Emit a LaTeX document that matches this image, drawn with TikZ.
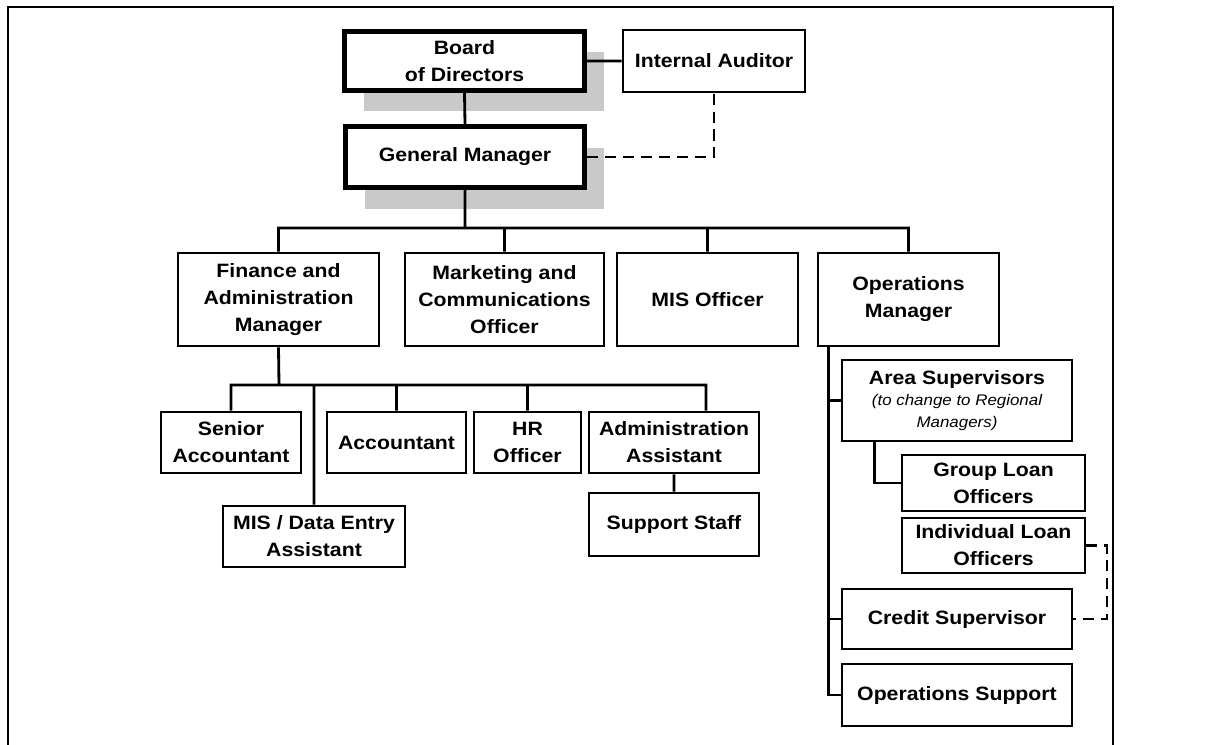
\documentclass[tikz,border=0pt]{standalone}
\usepackage{fontspec}
\setmainfont{Liberation Sans}[FakeStretch=1.1]
\usetikzlibrary{calc,shadows}
\newcommand\areanote{\mdseries\itshape\fontsize{8.75}{12.35}\selectfont}

\begin{document}
\begin{tikzpicture}[x=0.02cm,y=-0.02cm,
		box/.style={draw,fill=white,line width=1.6pt,align=center,inner sep=0pt,font=\fontsize{11}{15.4}\selectfont\bfseries},
		topbox/.style={box,line width=3pt,drop shadow={shadow xshift=0.38cm,shadow yshift=-0.42cm,fill=black!21,opacity=1}},
		boxsize/.style 2 args={minimum width=#1*0.02cm,minimum height=#2*0.02cm},
		link/.style={line width=1.6pt},
		dashlink/.style={line width=1.2pt,dash pattern=on 6.3pt off 3.9pt}]
	\useasboundingbox(0,0)rectangle(1219,744);
	\draw[line width=1.5pt](8,760)--(8,7)--(1113,7)--(1113,760);
	\node[topbox,boxsize={240}{59}](board)at(464.5,61){Board\\of Directors};
	\node[box,boxsize={182}{62}](audit)at(714,61){Internal Auditor};
	\node[topbox,boxsize={239}{61}](gm)at(465,157){General Manager};
	\node[box,boxsize={201}{93}](fin)at(278.5,299.5){Finance and\\Administration\\Manager};
	\node[box,boxsize={199}{93}](mkt)at(504.5,299.5){Marketing and\\Communications\\Officer};
	\node[box,boxsize={181}{93}](mis)at(707.5,299.5){MIS Officer};
	\node[box,boxsize={181}{93}](ops)at(908.5,299.5){Operations\\Manager};
	\node[box,boxsize={140}{61}](senior)at(231,442.5){Senior\\Accountant};
	\node[box,boxsize={139}{61}](acct)at(396.5,442.5){Accountant};
	\node[box,boxsize={107}{61}](hr)at(527.5,442.5){HR\\Officer};
	\node[box,boxsize={170}{61}](admin)at(674,442.5){Administration\\Assistant};
	\node[box,boxsize={170}{63}](staff)at(674,524.5){Support Staff};
	\node[box,boxsize={182}{61}](entry)at(314,536.5){MIS / Data Entry\\Assistant};
	\node[box,boxsize={230}{81},font=\fontsize{11}{12.35}\selectfont\bfseries](area)at(957,400.5)
		{Area Supervisors\\{\areanote(to change to Regional}\\{\areanote Managers)}};
	\node[box,boxsize={183}{56}](group)at(993.5,483){Group Loan\\Officers};
	\node[box,boxsize={183}{55}](indiv)at(993.5,545.5){Individual Loan\\Officers};
	\node[box,boxsize={230}{60}](credit)at(957,619){Credit Supervisor};
	\node[box,boxsize={230}{62}](opsup)at(957,695){Operations Support};
	\coordinate(bus)at(465,228);
	\coordinate(finbus)at(279,385);
	\coordinate(opsline)at($(ops.south west)+(12,0)$);
	\draw[link](board.east)--(audit.west) (board.south)--(gm.north) (gm.south)--(bus)
		(fin.north)|-(bus)-|(ops.north) (mkt.north)--(mkt.north|-bus) (mis.north)--(mis.north|-bus);
	\draw[dashlink](gm.east)-|(audit.south);
	\draw[link](fin.south)--(finbus) (senior.north)|-(finbus)-|($(admin.north)+(32,0)$)
		(acct.north)--(acct.north|-finbus) (hr.north)--(hr.north|-finbus)
		(entry.north)--(entry.north|-finbus) (admin.south)--(staff.north);
	\draw[link](opsline)|-(opsup.west) (opsline|-area.west)--(area.west)
		(opsline|-credit.west)--(credit.west) ($(area.south west)+(34,0)$)|-(group.west);
	\draw[dashlink](indiv.east)--++(21,0)|-(credit.east);
\end{tikzpicture}
\end{document}
